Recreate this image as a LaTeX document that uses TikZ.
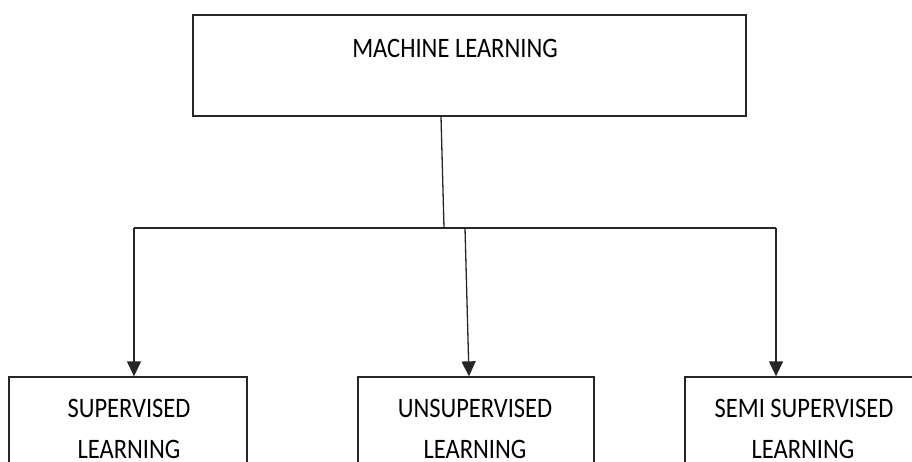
\documentclass[tikz,border=0pt]{standalone}
\usepackage{fontspec}
\setmainfont{Carlito}
\usetikzlibrary{arrows.meta}
\begin{document}
\begin{tikzpicture}[x=1pt,y=-1pt,
  box/.style={draw=black!85,line width=1.3pt,rectangle,inner sep=0pt},
  lbl/.style={font=\fontsize{24.5}{30}\selectfont,inner sep=0pt,text=black},
  conn/.style={draw=black!85,line width=1.3pt},
  arr/.style={conn,-{Triangle[width=14pt,length=15pt]}}]
\useasboundingbox (0,0) rectangle (912,462);
% boxes
\node[box,minimum width=553pt,minimum height=101pt] (ml) at (469.5,65.5) {};
\node[box,minimum width=238pt,minimum height=113pt] (sl) at (128,433.5) {};
\node[box,minimum width=236pt,minimum height=113pt] (ul) at (476,433.5) {};
\node[box,minimum width=238pt,minimum height=113pt] (ssl) at (804,433.5) {};
% labels
\node[lbl] (t0) at (455,48) {\scalebox{1}[1.15]{MACHINE LEARNING}};
\node[lbl] (t1) at (129,408) {\scalebox{1}[1.15]{SUPERVISED}};
\node[lbl] (t1b) at (129,449) {\scalebox{1}[1.15]{LEARNING}};
\node[lbl] (t2) at (475,408) {\scalebox{1}[1.15]{UNSUPERVISED}};
\node[lbl] (t2b) at (475,449) {\scalebox{1}[1.15]{LEARNING}};
\node[lbl] (t3) at (804,408) {\scalebox{1}[1.15]{SEMI SUPERVISED}};
\node[lbl] (t3b) at (803,449) {\scalebox{1}[1.15]{LEARNING}};
% junctions
\coordinate (jt) at (444,228);
\coordinate (j1) at (134,228);
\coordinate (j2) at (465,228);
\coordinate (j3) at (776,228);
% connectors
\draw[conn] ([xshift=-28.5pt]ml.south) -- (jt);
\draw[conn] (j1) -- (j3);
\draw[arr] (j1) -- (j1 |- sl.north);
\draw[arr] (j2) -- ([xshift=-7pt]ul.north);
\draw[arr] (j3) -- (j3 |- ssl.north);
\end{tikzpicture}
\end{document}
